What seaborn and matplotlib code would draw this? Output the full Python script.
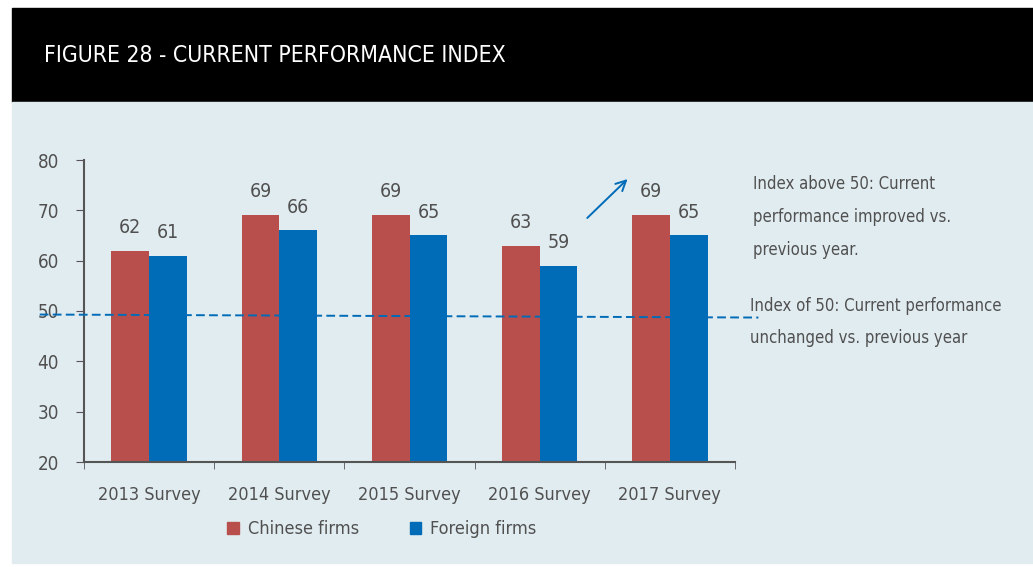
import pandas as pd
import matplotlib.pyplot as plt
import matplotlib.patches as mpatches
import seaborn as sns

# Data
surveys = ['2013 Survey', '2014 Survey', '2015 Survey', '2016 Survey', '2017 Survey']
chinese = [62, 69, 69, 63, 69]
foreign = [61, 66, 65, 59, 65]
series = ['Chinese firms', 'Foreign firms']
colors = ['#b84f4d', '#006cb8']
bg = '#e1ecf0'
txt = '#505050'

df = pd.DataFrame({
    'survey': surveys * 2,
    'firm': [series[0]] * 5 + [series[1]] * 5,
    'index': chinese + foreign,
})

sns.set_style('white')
plt.rcParams['font.family'] = ['DejaVu Sans']
plt.rcParams['font.stretch'] = 'condensed'

fig = plt.figure(figsize=(10.33, 5.67), dpi=100)
fig.patch.set_facecolor('white')

# header band and panel background
fig.patches.append(mpatches.Rectangle((12 / 1033, 1 - 102 / 567), 1, 94 / 567,
                                      transform=fig.transFigure, color='black', zorder=-2))
fig.patches.append(mpatches.Rectangle((12 / 1033, 1 - 563 / 567), 1, 461 / 567,
                                      transform=fig.transFigure, color=bg, zorder=-2))
fig.text(44 / 1033, 1 - 55 / 567, 'FIGURE 28 - CURRENT PERFORMANCE INDEX',
         color='white', fontsize=16.5, va='center', ha='left')

ax = fig.add_axes([84 / 1033, 1 - 462 / 567, 651 / 1033, 302 / 567])
ax.set_facecolor('none')

sns.barplot(data=df, x='survey', y='index', hue='firm', palette=colors,
            width=0.58, saturation=1, ax=ax, legend=False, linewidth=0, edgecolor='none')

for cont in ax.containers:
    ax.bar_label(cont, padding=10, fontsize=14, color=txt)

ax.set_ylim(20, 80)
ax.set_xlim(-0.5, 4.5)
ax.set_yticks([20, 30, 40, 50, 60, 70, 80])
ax.set_xlabel('')
ax.set_ylabel('')
ax.tick_params(axis='y', labelsize=13.5, labelcolor=txt, length=6, color='#555555',
               direction='out', left=True, pad=12)
ax.tick_params(axis='x', labelsize=13, labelcolor=txt, length=0, pad=17)
ax.set_xticks([-0.5, 0.5, 1.5, 2.5, 3.5, 4.5], minor=True)
ax.tick_params(axis='x', which='minor', length=5, color='#555555', direction='out', bottom=True)
for s in ['top', 'right']:
    ax.spines[s].set_visible(False)
for s in ['left', 'bottom']:
    ax.spines[s].set_color('#555555')
    ax.spines[s].set_linewidth(1.5)

# reference line at 50
ax.plot([-0.84, 4.68], [49.3, 48.7], ls=(0, (4.5, 2.2)), color='#006cb8', lw=1.4,
        clip_on=False, zorder=5)

# arrow
ax.annotate('', xy=(3.69, 76.6), xytext=(3.35, 68.1),
            arrowprops=dict(arrowstyle='->', color='#006cb8', lw=1.4, mutation_scale=18))

fig.text(753 / 1033, 1 - 217 / 567, 'Index above 50: Current\nperformance improved vs.\nprevious year.',
         fontsize=12, color=txt, va='center', ha='left', linespacing=2.05)
fig.text(750 / 1033, 1 - 322 / 567, 'Index of 50: Current performance\nunchanged vs. previous year',
         fontsize=12, color=txt, va='center', ha='left', linespacing=2.05)

handles = [mpatches.Patch(color=c, label=l) for c, l in zip(colors, series)]
fig.legend(handles=handles, loc='center', bbox_to_anchor=(382 / 1033, 1 - 529 / 567),
           ncol=2, frameon=False, fontsize=13, labelcolor=txt, handlelength=0.65,
           handleheight=0.65, handletextpad=0.5, columnspacing=2.8)

fig.savefig('out.png', dpi=100, facecolor=fig.get_facecolor())
